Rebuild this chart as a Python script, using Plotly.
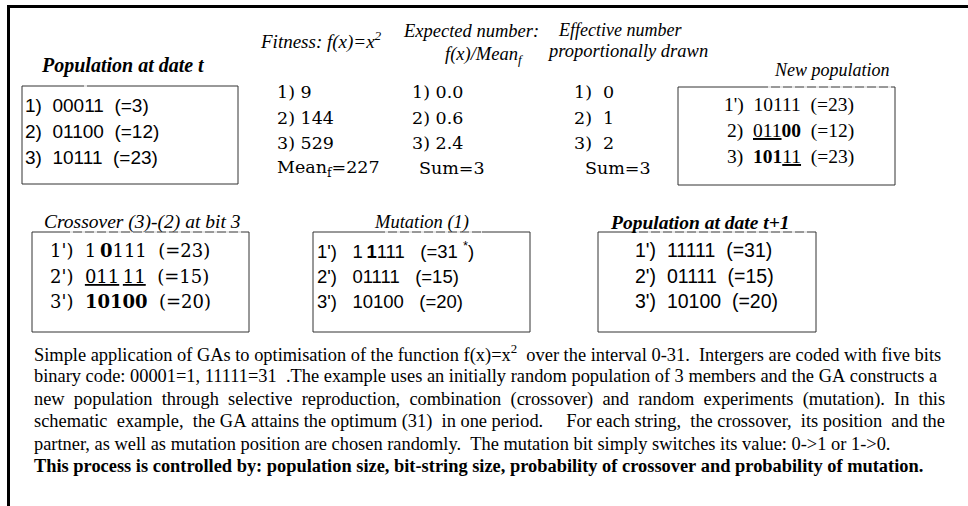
import plotly.graph_objects as go

NB = "\u00a0"
TH = "\u2009"

# ---------------- data ----------------
pop_t_labels = ["1)", "2)", "3)"]
pop_t_strings = ["00011", "01100", "10111"]
pop_t_values = [3, 12, 23]

fitness_values = [9, 144, 529]
mean_fitness = 227

expected_values = ["0.0", "0.6", "2.4"]
expected_sum = 3

effective_values = [0, 1, 2]
effective_sum = 3

newpop_labels = ["1')", "2)", "3)"]
newpop_strings = ["10111", "<u>011</u><b>00</b>", "<b>101</b><u>11</u>"]
newpop_values = [23, 12, 23]

cross_labels = ["1')", "2')", "3')"]
cross_strings = ["1" + TH + "<b>0</b>111", "<u>011</u>" + TH + "<u>11</u>", "<b>10100</b>"]
cross_values = [23, 15, 20]

mut_labels = ["1')", "2')", "3')"]
mut_strings = ["1" + TH + "<b>1</b>111", "01111", "10100"]
mut_values = ["31" + NB + "<sup>*</sup>", "15", "20"]

pop_t1_labels = ["1')", "2')", "3')"]
pop_t1_strings = ["11111", "01111", "10100"]
pop_t1_values = [31, 15, 20]

paragraph_lines = [
    "Simple application of GAs to optimisation of the function f(x)=x<sup>2</sup>  over the interval 0-31.  Intergers are coded with five bits",
    "binary code: 00001=1, 11111=31  .The example uses an initially random population of 3 members and the GA constructs a",
    "new  population  through  selective  reproduction,  combination  (crossover)  and  random  experiments  (mutation).  In  this",
    "schematic  example,  the GA attains the optimum (31)  in one period.     For each string,  the crossover,  its position  and the",
    "partner, as well as mutation position are chosen randomly.  The mutation bit simply switches its value: 0->1 or 1->0.",
    "<b>This process is controlled by: population size, bit-string size, probability of crossover and probability of mutation.</b>",
]

SERIF = "Liberation Serif"
SANS = "Liberation Sans"
WIDE = "DejaVu Serif"

fig = go.Figure()
annotations = []
shapes = []


def sp(s):
    return s.replace(" ", NB).replace("<b" + NB, "<b ").replace("<i" + NB, "<i ")


def add_text(x, y, text, family, size, xanchor="left"):
    annotations.append(dict(
        x=x, y=y, xref="x", yref="y", text=sp(text), showarrow=False,
        xanchor=xanchor, yanchor="middle", align="left",
        font=dict(family=family, size=size, color="black"),
    ))


def add_box(x0, y0, x1, y1):
    shapes.append(dict(type="rect", xref="x", yref="y", x0=x0, y0=y0, x1=x1, y1=y1,
                       line=dict(color="#333333", width=1), fillcolor="rgba(0,0,0,0)"))


def add_gap(x0, x1, y):
    shapes.append(dict(type="line", xref="x", yref="y", x0=x0, y0=y, x1=x1, y1=y,
                       line=dict(color="white", width=1.5, dash="3px,9px")))


# frame
shapes.append(dict(type="line", xref="x", yref="y", x0=7, y0=6.5, x1=968, y1=6.5,
                   line=dict(color="black", width=3)))
shapes.append(dict(type="line", xref="x", yref="y", x0=8.5, y0=5, x1=8.5, y1=506,
                   line=dict(color="black", width=3)))

# ---- top row ----
add_text(123, 65, "<b><i>Population at date t</i></b>", SERIF, 20, "center")
add_box(22, 86, 238, 184)
add_gap(84, 92, 86)
rows_top = [105, 131, 157]
for lab, s, v, y in zip(pop_t_labels, pop_t_strings, pop_t_values, rows_top):
    add_text(23, y, f"{lab}  {s}  (={v})", SANS, 19)

add_text(321, 40, "<i>Fitness: f(x)=x<sup>2</sup></i>", SERIF, 19, "center")
rows_mid = [92, 118, 143]
for i, (f, y) in enumerate(zip(fitness_values, rows_mid)):
    add_text(275, y, f"{i+1}) {f}", WIDE, 17.5)
add_text(275, 168, f"Mean<sub>f</sub>={mean_fitness}", WIDE, 17.5)

add_text(471, 31, "<i>Expected number:</i>", SERIF, 18.5, "center")
add_text(484, 55, "<i>f(x)/Mean<sub>f</sub></i>", SERIF, 18.5, "center")
for i, (e, y) in enumerate(zip(expected_values, rows_mid)):
    add_text(410, y, f"{i+1}) {e}", WIDE, 17.5)
add_text(417, 168, f"Sum={expected_sum}", WIDE, 17.5)

add_text(620, 30, "<i>Effective number</i>", SERIF, 18, "center")
add_text(627, 51, "<i>proportionally drawn</i>", SERIF, 18.5, "center")
for i, (e, y) in enumerate(zip(effective_values, rows_mid)):
    add_text(572, y, f"{i+1})  {e}", WIDE, 17.5)
add_text(583, 168, f"Sum={effective_sum}", WIDE, 17.5)

add_text(832, 70, "<i>New population</i>", SERIF, 18, "center")
add_box(678, 87, 895, 185)
add_gap(768, 893, 87)
for lab, s, v, y in zip(newpop_labels, newpop_strings, newpop_values, rows_top):
    add_text(856, y, f"{lab}  {s}  (={v})", SERIF, 19.5, "right")

# ---- second row ----
rows_bot = [250, 276, 301]
add_text(142, 222, "<i>Crossover (3)-(2) at bit 3</i>", SERIF, 19.5, "center")
add_box(32, 232, 249, 332)
add_gap(70, 246, 232)
for lab, s, v, y in zip(cross_labels, cross_strings, cross_values, rows_bot):
    add_text(48, y, f"{lab}  {s}  (={v})", WIDE, 18)

add_text(421, 222, "<i>Mutation (1)</i>", SERIF, 18.5, "center")
add_box(313, 232, 530, 332)
add_gap(385, 482, 232)
for lab, s, v, y in zip(mut_labels, mut_strings, mut_values, rows_bot):
    add_text(315, y, f"{lab}   {s}   (={v})", SANS, 18.5)

add_text(700, 222, "<b><i>Population at date t+1</i></b>", SERIF, 19.5, "center")
add_box(598, 232, 816, 332)
add_gap(636, 814, 232)
for lab, s, v, y in zip(pop_t1_labels, pop_t1_strings, pop_t1_values, rows_bot):
    add_text(633, y, f"{lab}  {s}  (={v})", SANS, 19.5)

# ---- paragraph ----
para_y = [354, 376, 399, 421, 444, 466]
for line, y in zip(paragraph_lines, para_y):
    add_text(32, y, line, SERIF, 18.4)

fig.update_layout(
    width=968, height=506,
    margin=dict(l=0, r=0, t=0, b=0),
    paper_bgcolor="white", plot_bgcolor="white",
    xaxis=dict(range=[0, 968], visible=False, fixedrange=True),
    yaxis=dict(range=[506, 0], visible=False, fixedrange=True),
    showlegend=False,
    annotations=annotations,
    shapes=shapes,
)

fig.write_html("out.html", config={"displayModeBar": False},
               post_script="document.body.style.margin='0';document.body.style.overflow='hidden';")
